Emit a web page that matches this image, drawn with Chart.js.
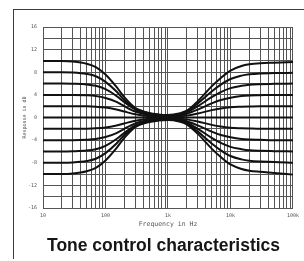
<!DOCTYPE html>
<html>
    <head>
        <meta http-equiv="Content-Type" content="text/html; charset=UTF-8">
        <title>Tone control characteristics</title>
        <script src="https://cdn.jsdelivr.net/npm/chart.js@4.4.1/dist/chart.umd.min.js"></script>
        <style type="text/css">
            body { margin: 0; background: #fff; }
            .wrap { position: relative; width: 304px; height: 261px; overflow: hidden; }
            .frame {
                position: absolute; left: 13px; top: 9px; width: 300px; height: 249px;
                border-top: 1.5px solid #3c3c3c; border-left: 1.5px solid #3c3c3c;
            }
            .caption {
                position: absolute; left: 47px; top: 235px; white-space: nowrap;
                font: bold 17.5px "Liberation Sans", Arial, sans-serif; line-height: 20px; color: #161616;
            }
            canvas { position: absolute; left: 0; top: 0; }
        </style>
    </head>
    <body>
        <div class="wrap">
            <canvas id="tone" width="304" height="261"></canvas>
            <div class="frame"></div>
            <div class="caption">Tone control characteristics</div>
        </div>

        <script>
            // frequencies in Hz (shared by every curve)
            var freqs = [10, 20, 30, 50, 70, 100, 150, 200, 300, 500, 700, 1000,
                         1500, 2000, 3000, 5000, 7000, 10000, 15000, 20000, 30000, 50000, 100000];

            // response in dB, bass and treble turned the same way
            var boost10 = [10, 10, 9.9, 9.5, 8.9, 7.6, 5.4, 3.6, 1.7, 0.8, 0.55, 0.45,
                           0.7, 1.2, 2.9, 5.5, 7.0, 8.3, 9.1, 9.4, 9.6, 9.7, 9.8];
            var boost8 = [8, 8, 7.95, 7.7, 7.3, 6.3, 4.6, 3.1, 1.55, 0.7, 0.45, 0.35,
                          0.6, 1.05, 2.5, 4.6, 5.8, 6.8, 7.4, 7.65, 7.8, 7.85, 7.9];
            var boost6 = [6, 6, 5.97, 5.85, 5.6, 5.0, 3.8, 2.7, 1.4, 0.6, 0.35, 0.28,
                          0.45, 0.9, 2.0, 3.6, 4.5, 5.2, 5.6, 5.8, 5.9, 5.95, 6];
            var boost4 = [4, 4, 4, 3.93, 3.8, 3.45, 2.75, 2.0, 1.05, 0.45, 0.25, 0.18,
                          0.32, 0.65, 1.4, 2.5, 3.1, 3.5, 3.8, 3.9, 3.95, 4, 4];
            var boost2 = [2, 2, 2, 1.98, 1.92, 1.76, 1.4, 1.05, 0.58, 0.24, 0.12, 0.09,
                          0.16, 0.33, 0.7, 1.3, 1.6, 1.8, 1.9, 1.95, 2, 2, 2];
            var flat = [0, 0, 0, 0, 0, 0, 0, 0, 0, 0, 0, 0,
                        0, 0, 0, 0, 0, 0, 0, 0, 0, 0, 0];
            var cut2 = [-2, -2, -2, -1.98, -1.92, -1.76, -1.4, -1.05, -0.58, -0.24, -0.12, -0.09,
                        -0.16, -0.33, -0.7, -1.3, -1.6, -1.8, -1.9, -1.95, -2, -2, -2];
            var cut4 = [-4, -4, -4, -3.93, -3.8, -3.45, -2.75, -2.0, -1.05, -0.45, -0.25, -0.18,
                        -0.32, -0.65, -1.4, -2.5, -3.1, -3.5, -3.8, -3.9, -3.95, -4, -4];
            var cut6 = [-6, -6, -5.97, -5.85, -5.6, -5.0, -3.8, -2.7, -1.4, -0.6, -0.35, -0.28,
                        -0.45, -0.9, -2.0, -3.6, -4.5, -5.2, -5.6, -5.8, -5.9, -5.95, -6];
            var cut8 = [-8, -8, -7.95, -7.7, -7.3, -6.3, -4.6, -3.1, -1.55, -0.7, -0.45, -0.35,
                        -0.6, -1.05, -2.5, -4.6, -5.8, -6.8, -7.4, -7.65, -7.8, -7.85, -8];
            var cut10 = [-10, -10, -9.9, -9.5, -8.9, -7.6, -5.4, -3.6, -1.7, -0.8, -0.55, -0.45,
                         -0.7, -1.2, -2.9, -5.5, -7.0, -8.3, -9.1, -9.4, -9.6, -9.8, -10.1];

            var curves = [boost10, boost8, boost6, boost4, boost2, flat, cut2, cut4, cut6, cut8, cut10];

            // axis labels
            var xTickValues = [10, 100, 1000, 10000, 100000];
            var xTickLabels = ['10', '100', '1k', '10k', '100k'];
            var yTickValues = [16, 12, 8, 4, 0, -4, -8, -12, -16];

            //turns one array of dB values into x/y points
            function toPoints(values) {
                var pts = [];
                for (var i = 0; i < freqs.length; i++) {
                    pts.push({x: freqs[i], y: values[i]});
                }
                return pts;
            }

            var datasets = [];
            for (var c = 0; c < curves.length; c++) {
                datasets.push({
                    data: toPoints(curves[c]),
                    borderColor: '#111',
                    borderWidth: 2,
                    pointRadius: 0,
                    cubicInterpolationMode: 'monotone',
                    fill: false
                });
            }

            var gridColor = '#555';
            var tickFont = {family: 'DejaVu Sans Mono', size: 5};

            var toneChart = new Chart(document.getElementById('tone').getContext('2d'), {
                type: 'line',
                data: {datasets: datasets},
                options: {
                    responsive: false,
                    animation: false,
                    layout: {padding: {left: 14, top: 27, right: 9, bottom: 33}},
                    plugins: {legend: {display: false}, tooltip: {enabled: false}},
                    scales: {
                        x: {
                            type: 'logarithmic',
                            min: 10,
                            max: 100000,
                            afterBuildTicks: function (axis) {
                                var t = [];
                                for (var e = 1; e <= 4; e++) {
                                    for (var m = 1; m < 10; m++) {
                                        t.push({value: m * Math.pow(10, e)});
                                    }
                                }
                                t.push({value: 100000});
                                axis.ticks = t;
                            },
                            afterFit: function (axis) { axis.height = 20; },
                            grid: {color: gridColor, lineWidth: 1, drawTicks: false},
                            border: {color: gridColor},
                            ticks: {
                                autoSkip: false,
                                maxRotation: 0,
                                padding: 5,
                                color: '#555',
                                font: tickFont,
                                callback: function (value) {
                                    var i = xTickValues.indexOf(value);
                                    return i >= 0 ? xTickLabels[i] : '';
                                }
                            },
                            title: {
                                display: true,
                                text: 'Frequency in Hz',
                                color: '#555',
                                font: {family: 'DejaVu Sans Mono', size: 6.5},
                                padding: {top: 0, bottom: 0}
                            }
                        },
                        y: {
                            min: -16,
                            max: 16,
                            afterFit: function (axis) { axis.width = 29; },
                            grid: {color: gridColor, lineWidth: 1, drawTicks: false},
                            border: {color: gridColor},
                            ticks: {
                                stepSize: 2,
                                autoSkip: false,
                                padding: 6,
                                color: '#555',
                                font: tickFont,
                                callback: function (value) {
                                    return yTickValues.indexOf(value) >= 0 ? String(value) : '';
                                }
                            },
                            title: {
                                display: true,
                                text: 'Response in dB',
                                color: '#555',
                                font: {family: 'DejaVu Sans Mono', size: 5},
                                padding: {top: 8, bottom: 0}
                            }
                        }
                    }
                }
            });
        </script>
    </body>
</html>
